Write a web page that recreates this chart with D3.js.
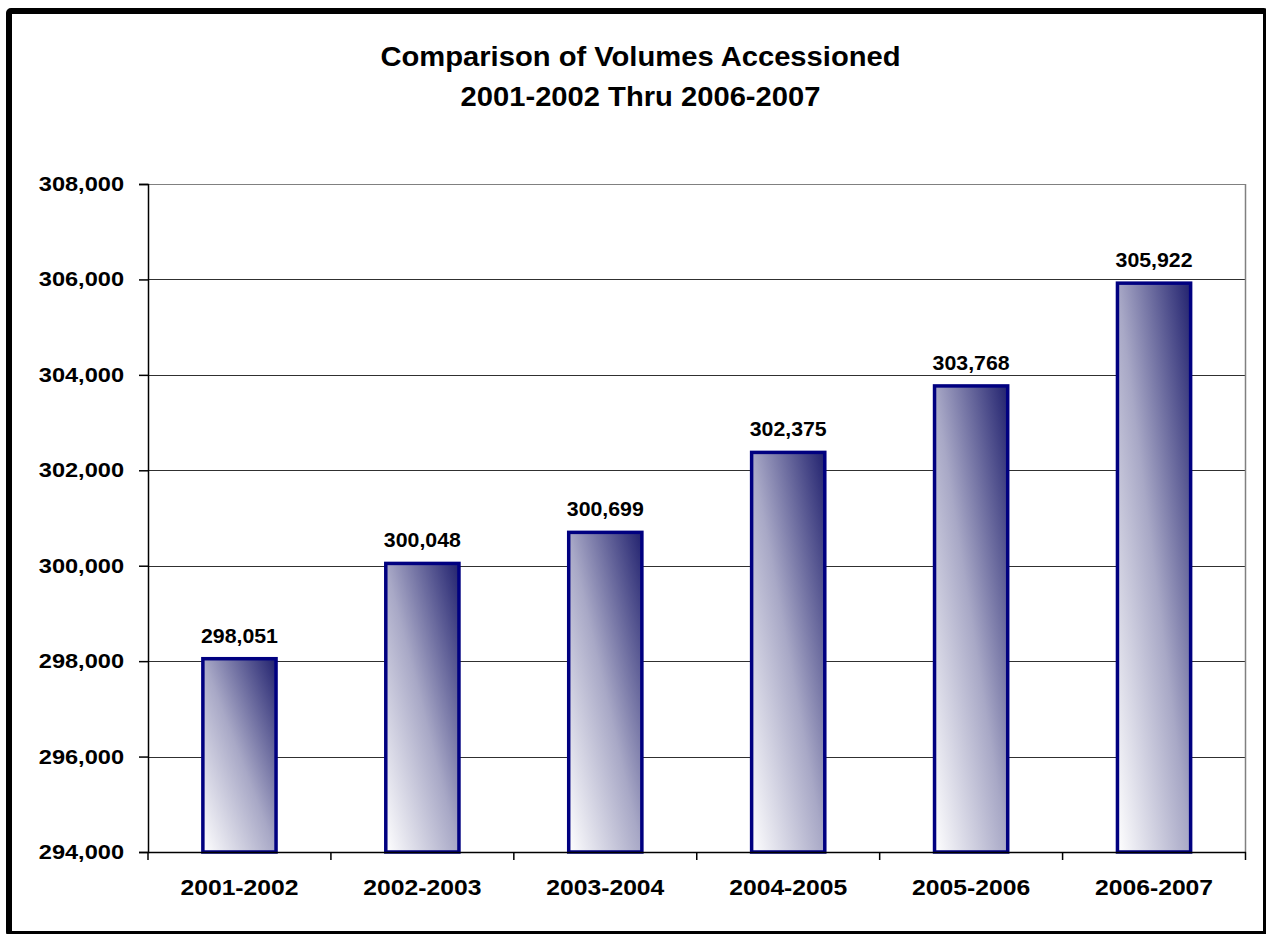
<!DOCTYPE html>
<html>
<head>
<meta charset="utf-8">
<script src="https://cdn.jsdelivr.net/npm/d3@7"></script>
<style>
html,body{margin:0;padding:0;background:#fff;}
svg{display:block;}
text{font-family:"Liberation Sans",Arial,sans-serif;font-weight:bold;fill:#000;}
</style>
</head>
<body>
<script>
const categories = ["2001-2002","2002-2003","2003-2004","2004-2005","2005-2006","2006-2007"];
const volumes = [298051, 300048, 300699, 302375, 303768, 305922];
const yTicks = [294000, 296000, 298000, 300000, 302000, 304000, 306000, 308000];
const titleLines = ["Comparison of Volumes Accessioned", "2001-2002 Thru 2006-2007"];

const W = 1266, H = 934;
const plot = {left: 148, right: 1245.5, top: 184, bottom: 852};

const svg = d3.select("body").append("svg").attr("width", W).attr("height", H);

function widen(sel, k) {
  sel.each(function() {
    const L = this.getComputedTextLength();
    d3.select(this).attr("textLength", L * k).attr("lengthAdjust", "spacingAndGlyphs");
  });
}

const defs = svg.append("defs");
const grad = defs.append("linearGradient").attr("id","barGrad")
  .attr("x1",0).attr("y1",1).attr("x2",1).attr("y2",0);
grad.append("stop").attr("offset","0%").attr("stop-color","#ffffff");
grad.append("stop").attr("offset","50%").attr("stop-color","#a8a8c6");
grad.append("stop").attr("offset","100%").attr("stop-color","#22226f");

svg.append("rect").attr("x",0).attr("y",0).attr("width",W).attr("height",H).attr("fill","#fff");

const x = d3.scaleBand().domain(categories).range([plot.left, plot.right]).padding(0);
const y = d3.scaleLinear().domain([294000, 308000]).range([plot.bottom, plot.top]);

// gridlines
svg.append("g").selectAll("line").data(yTicks.filter(t => t > 294000)).join("line")
  .attr("x1", plot.left).attr("x2", plot.right)
  .attr("y1", d => Math.round(y(d)) + 0.5).attr("y2", d => Math.round(y(d)) + 0.5)
  .attr("stroke", d => d === 308000 ? "#808080" : "#303030").attr("stroke-width", 1);

// plot area right border
svg.append("line").attr("x1", plot.right).attr("x2", plot.right)
  .attr("y1", plot.top).attr("y2", plot.bottom).attr("stroke","#808080").attr("stroke-width",1.5);

// bars
const bw = x.bandwidth() * 0.4;
svg.append("g").selectAll("rect").data(volumes).join("rect")
  .attr("x", (d,i) => x(categories[i]) + (x.bandwidth() - bw)/2)
  .attr("y", d => y(d))
  .attr("width", bw)
  .attr("height", d => plot.bottom - y(d))
  .attr("fill","url(#barGrad)")
  .attr("stroke","#000080").attr("stroke-width",3.5);

// data labels
const dl = svg.append("g").selectAll("text").data(volumes).join("text")
  .attr("x", (d,i) => x(categories[i]) + x.bandwidth()/2)
  .attr("y", d => y(d) - 16)
  .attr("text-anchor","middle").attr("font-size","20.3px")
  .text(d => d3.format(",")(d));
widen(dl, 1.05);

// y axis
const yAxis = d3.axisLeft(y).tickValues(yTicks).tickFormat(d3.format(",")).tickSize(9).tickPadding(15);
const gy = svg.append("g").attr("transform",`translate(${plot.left},0)`).call(yAxis);
gy.select(".domain").attr("stroke","#000").attr("stroke-width",1.5);
gy.selectAll(".tick line").attr("stroke","#000").attr("stroke-width",1.5);
const yl = gy.selectAll(".tick text").attr("font-size","20.5px").attr("font-family","Liberation Sans, Arial, sans-serif").attr("font-weight","bold").attr("fill","#000");
widen(yl, 1.15);

// x axis
const xAxis = d3.axisBottom(x).tickSize(0).tickPadding(0);
const gx = svg.append("g").attr("transform",`translate(0,${plot.bottom})`).call(xAxis);
gx.select(".domain").attr("stroke","#000").attr("stroke-width",1.5);
const xl = gx.selectAll(".tick text").attr("y", 43).attr("dy", null)
  .attr("font-size","22.3px").attr("font-family","Liberation Sans, Arial, sans-serif").attr("font-weight","bold").attr("fill","#000");
widen(xl, 1.107);
// category boundary ticks
const bounds = categories.map(c => x(c)).concat([plot.right]);
svg.append("g").selectAll("line").data(bounds).join("line")
  .attr("x1", d => d).attr("x2", d => d)
  .attr("y1", plot.bottom).attr("y2", plot.bottom + 8)
  .attr("stroke","#000").attr("stroke-width",1.5);

// title
const tl = svg.append("g").selectAll("text").data(titleLines).join("text")
  .attr("x", 640.5).attr("y", (d,i) => 66 + i*40)
  .attr("text-anchor","middle").attr("font-size","27px")
  .text(d => d);
widen(tl, 1.08);

// outer frame
svg.append("rect").attr("x",9).attr("y",11).attr("width",1257).attr("height",923)
  .attr("rx",2).attr("fill","none").attr("stroke","#000").attr("stroke-width",6);
</script>
</body>
</html>
